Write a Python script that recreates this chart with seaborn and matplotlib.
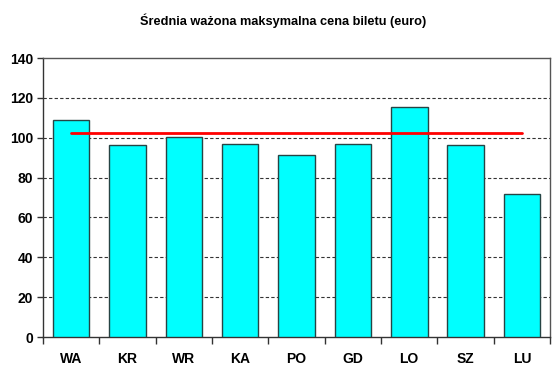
import matplotlib
matplotlib.use('Agg')
import matplotlib.pyplot as plt
import pandas as pd
import seaborn as sns

# Data
cities = ['WA', 'KR', 'WR', 'KA', 'PO', 'GD', 'LO', 'SZ', 'LU']
prices = [108.9, 96.3, 100.4, 96.9, 91.3, 96.9, 115.6, 96.3, 71.7]
avg_price = 102.5
y_ticks = [0, 20, 40, 60, 80, 100, 120, 140]
title = 'Średnia ważona maksymalna cena biletu (euro)'

df = pd.DataFrame({'city': cities, 'price': prices})

sns.set_style('white')
plt.rcParams['font.family'] = ['Liberation Sans', 'DejaVu Sans']
plt.rcParams['text.color'] = 'black'
plt.rcParams['xtick.color'] = 'black'
plt.rcParams['ytick.color'] = 'black'

fig = plt.figure(figsize=(5.59, 3.75), dpi=100)
ax = fig.add_axes([0.0769, 0.1013, 0.9071, 0.744])

sns.barplot(data=df, x='city', y='price', color='#00ffff', saturation=1,
            width=0.65, edgecolor='#264444', linewidth=1.0, ax=ax, zorder=3)

# average line from first to last category centre
ax.plot([0, len(cities) - 1], [avg_price, avg_price], color='#ff0000',
        linewidth=2, zorder=4)

ax.set_xlim(-0.5, len(cities) - 0.5)
ax.set_ylim(0, 140)
ax.set_yticks(y_ticks)
ax.set_yticklabels([str(v) for v in y_ticks], fontsize=10, fontweight='bold')
ax.set_xticks(range(len(cities)))
ax.set_xticklabels(cities, fontsize=10, fontweight='bold')
ax.set_xticks([i + 0.5 for i in range(-1, len(cities))], minor=True)
ax.tick_params(axis='x', which='major', length=0, pad=11)
ax.tick_params(axis='x', which='minor', length=5, width=1, color='#333333',
               direction='out', bottom=True)
ax.tick_params(axis='y', length=4, width=1, color='#333333', left=True, pad=3)
ax.set_xlabel('')
ax.set_ylabel('')

for v in y_ticks[1:-1]:
    ax.axhline(v, color='#333333', linewidth=0.8, linestyle=(0, (3, 2)),
               zorder=1)

for side in ['left', 'bottom']:
    ax.spines[side].set_color('#333333')
    ax.spines[side].set_linewidth(1.0)
for side in ['top', 'right']:
    ax.spines[side].set_color('#555555')
    ax.spines[side].set_linewidth(1.0)
    ax.spines[side].set_visible(True)

fig.text(0.507, 0.945, title, ha='center', va='center', fontsize=9.2,
         fontweight='bold')

fig.savefig('out.png', dpi=100)
